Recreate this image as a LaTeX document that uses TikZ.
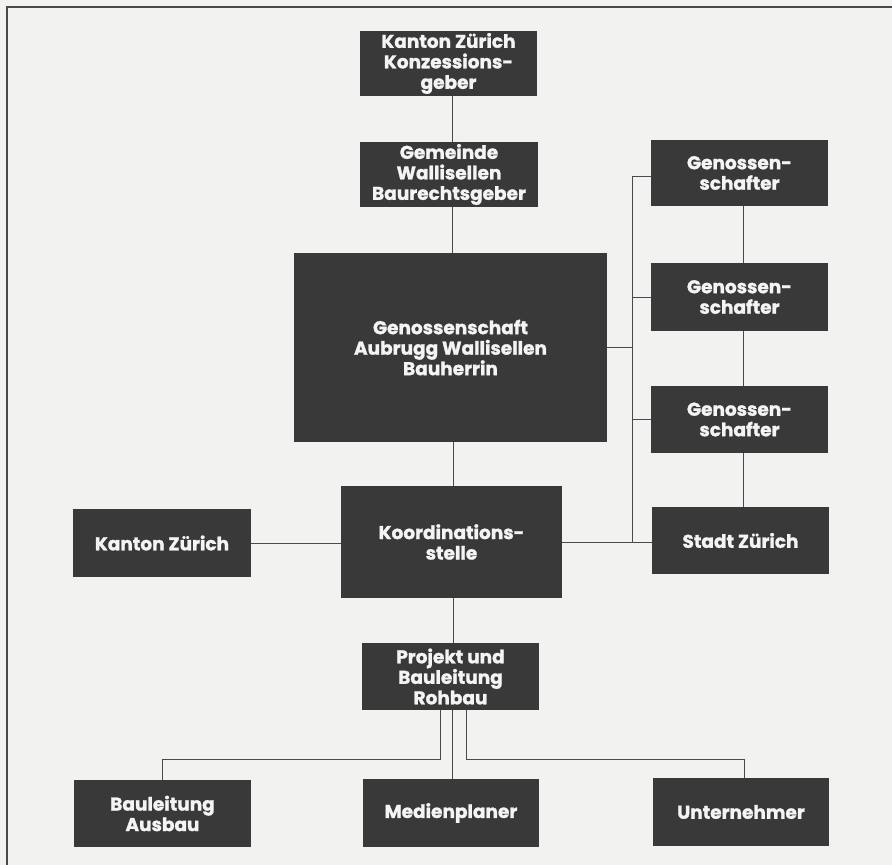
\documentclass[tikz,border=0pt]{standalone}
\usepackage{fontspec}
\setmainfont{Poppins}
\newfontfamily\boxfont{Poppins}[BoldFeatures={FakeBold=1.3}]
\definecolor{bgc}{HTML}{F2F2F0}
\definecolor{boxc}{HTML}{393939}
\definecolor{linec}{HTML}{4A4A4A}
\definecolor{txtc}{HTML}{F4F4F4}
\begin{document}
\begin{tikzpicture}[x=1pt,y=-1pt,
  orgbox/.style={fill=boxc, draw=none, inner sep=0pt, align=center,
    text=txtc, font=\boxfont\fontsize{18.5}{20.5}\selectfont\bfseries},
  conn/.style={draw=linec, line width=1pt},
  frame/.style={draw=linec, line width=1.4pt}]
\fill[bgc] (0,0) rectangle (892,865);
\useasboundingbox (0,0) rectangle (892,865);
\coordinate (fa) at (7,865);
\coordinate (fb) at (7,7);
\coordinate (fc) at (892,7);
\draw[frame] (fa) -- (fb) -- (fc);

\node[orgbox, minimum width=177pt, minimum height=65pt] (kz) at (448.5,63.5) {Kanton Zürich\\Konzessions-\\geber};
\node[orgbox, minimum width=178pt, minimum height=65pt] (gw) at (449,174.5) {Gemeinde\\Wallisellen\\Baurechtsgeber};
\node[orgbox, minimum width=313pt, minimum height=189pt] (gen) at (450.5,347.5) {Genossenschaft\\Aubrugg Wallisellen\\Bauherrin};
\node[orgbox, minimum width=177pt, minimum height=66pt] (g1) at (739.5,173) {Genossen-\\schafter};
\node[orgbox, minimum width=177pt, minimum height=68pt] (g2) at (739.5,297) {Genossen-\\schafter};
\node[orgbox, minimum width=177pt, minimum height=67pt] (g3) at (739.5,419.5) {Genossen-\\schafter};
\node[orgbox, minimum width=178pt, minimum height=68pt] (kzl) at (162,543) {Kanton Zürich};
\node[orgbox, minimum width=221pt, minimum height=112pt] (ko) at (451.5,542) {Koordinations-\\stelle};
\node[orgbox, minimum width=177pt, minimum height=67pt] (sz) at (740.5,540.5) {Stadt Zürich};
\node[orgbox, minimum width=177pt, minimum height=67pt] (pr) at (450.5,676.5) {Projekt und\\Bauleitung\\Rohbau};
\node[orgbox, minimum width=177pt, minimum height=67pt] (ba) at (162.5,813.5) {Bauleitung\\Ausbau};
\node[orgbox, minimum width=176pt, minimum height=68pt] (me) at (451,813) {Medienplaner};
\node[orgbox, minimum width=176pt, minimum height=68pt] (un) at (741,812) {Unternehmer};

\coordinate (busT) at (632,176);
\coordinate (busB) at (632,542);
\coordinate (jl) at (162.5,759);
\coordinate (jr) at (744,759);

\draw[conn] ([xshift=3.5pt]kz.south) -- ([xshift=3.5pt]kz.south |- gw.north);
\draw[conn] ([xshift=3pt]gw.south) -- ([xshift=3pt]gw.south |- gen.north);
\draw[conn] ([xshift=2.5pt]gen.south) -- ([xshift=2.5pt]gen.south |- ko.north);
\draw[conn] (g1.west |- busT) -- (busT) -- (busB);
\draw[conn] (g2.west) -- (g2.west -| busT);
\draw[conn] (g3.west) -- (g3.west -| busT);
\draw[conn] (gen.east) -- (gen.east -| busT);
\draw[conn] (ko.east) -- (ko.east -| sz.west);
\draw[conn] (kzl) -- (kzl -| ko.west);
\draw[conn] ([xshift=3.5pt]g1.south) -- ([xshift=3.5pt]g1.south |- g2.north);
\draw[conn] ([xshift=3.5pt]g2.south) -- ([xshift=3.5pt]g2.south |- g3.north);
\draw[conn] ([xshift=3.5pt]g3.south) -- ([xshift=3.5pt]g3.south |- sz.north);
\draw[conn] ([xshift=1.5pt]ko.south) -- ([xshift=1.5pt]ko.south |- pr.north);
\draw[conn] ([xshift=-10.5pt]pr.south) |- (jl) -- (ba.north);
\draw[conn] ([xshift=1.5pt]pr.south) -- ([xshift=1.5pt]pr.south |- me.north);
\draw[conn] ([xshift=15.5pt]pr.south) |- (jr) -- (jr |- un.north);
\end{tikzpicture}
\end{document}
